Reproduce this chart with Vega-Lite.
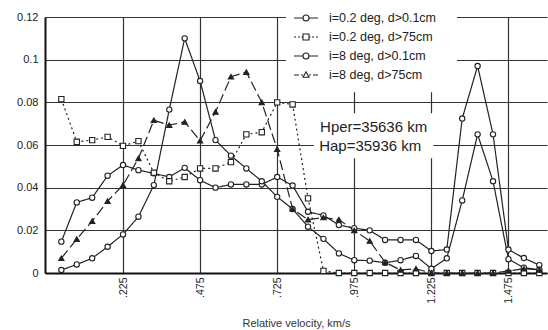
{
  "$schema": "https://vega.github.io/schema/vega-lite/v6.json",
  "width": 502,
  "height": 256,
  "autosize": {"type": "none"},
  "padding": {"left": 45, "top": 17, "right": 1, "bottom": 57},
  "background": "white",
  "config": {
    "view": {"stroke": null},
    "font": "Liberation Sans",
    "axis": {"grid": true, "gridColor": "#333", "gridWidth": 1.2, "gridOpacity": 1, "domainColor": "#111", "domainWidth": 2, "ticks": false, "labelColor": "#222", "labelFont": "Liberation Sans"}
  },
  "datasets": {
    "notes": [{"note": "Hper=35636 km"}, {"note": "Hap=35936 km"}],
    "box": [{"box": "white"}]
  },
  "data": {"values": [
    {"series": "i=0.2 deg, d>0.1cm", "velocity": 0.025, "flux": 0.0147},
    {"series": "i=0.2 deg, d>0.1cm", "velocity": 0.075, "flux": 0.0331},
    {"series": "i=0.2 deg, d>0.1cm", "velocity": 0.125, "flux": 0.0353},
    {"series": "i=0.2 deg, d>0.1cm", "velocity": 0.175, "flux": 0.0456},
    {"series": "i=0.2 deg, d>0.1cm", "velocity": 0.225, "flux": 0.0506},
    {"series": "i=0.2 deg, d>0.1cm", "velocity": 0.275, "flux": 0.0482},
    {"series": "i=0.2 deg, d>0.1cm", "velocity": 0.325, "flux": 0.0467},
    {"series": "i=0.2 deg, d>0.1cm", "velocity": 0.375, "flux": 0.045},
    {"series": "i=0.2 deg, d>0.1cm", "velocity": 0.425, "flux": 0.0493},
    {"series": "i=0.2 deg, d>0.1cm", "velocity": 0.475, "flux": 0.0435},
    {"series": "i=0.2 deg, d>0.1cm", "velocity": 0.525, "flux": 0.040},
    {"series": "i=0.2 deg, d>0.1cm", "velocity": 0.575, "flux": 0.0415},
    {"series": "i=0.2 deg, d>0.1cm", "velocity": 0.625, "flux": 0.0415},
    {"series": "i=0.2 deg, d>0.1cm", "velocity": 0.675, "flux": 0.0415},
    {"series": "i=0.2 deg, d>0.1cm", "velocity": 0.725, "flux": 0.045},
    {"series": "i=0.2 deg, d>0.1cm", "velocity": 0.775, "flux": 0.041},
    {"series": "i=0.2 deg, d>0.1cm", "velocity": 0.825, "flux": 0.0287},
    {"series": "i=0.2 deg, d>0.1cm", "velocity": 0.875, "flux": 0.027},
    {"series": "i=0.2 deg, d>0.1cm", "velocity": 0.925, "flux": 0.0225},
    {"series": "i=0.2 deg, d>0.1cm", "velocity": 0.975, "flux": 0.021},
    {"series": "i=0.2 deg, d>0.1cm", "velocity": 1.025, "flux": 0.020},
    {"series": "i=0.2 deg, d>0.1cm", "velocity": 1.075, "flux": 0.0155},
    {"series": "i=0.2 deg, d>0.1cm", "velocity": 1.125, "flux": 0.0155},
    {"series": "i=0.2 deg, d>0.1cm", "velocity": 1.175, "flux": 0.0155},
    {"series": "i=0.2 deg, d>0.1cm", "velocity": 1.225, "flux": 0.0103},
    {"series": "i=0.2 deg, d>0.1cm", "velocity": 1.275, "flux": 0.011},
    {"series": "i=0.2 deg, d>0.1cm", "velocity": 1.325, "flux": 0.0724},
    {"series": "i=0.2 deg, d>0.1cm", "velocity": 1.375, "flux": 0.097},
    {"series": "i=0.2 deg, d>0.1cm", "velocity": 1.425, "flux": 0.065},
    {"series": "i=0.2 deg, d>0.1cm", "velocity": 1.475, "flux": 0.011},
    {"series": "i=0.2 deg, d>0.1cm", "velocity": 1.525, "flux": 0.007},
    {"series": "i=0.2 deg, d>0.1cm", "velocity": 1.575, "flux": 0.0037},
    {"series": "i=0.2 deg, d>75cm", "velocity": 0.025, "flux": 0.0815},
    {"series": "i=0.2 deg, d>75cm", "velocity": 0.075, "flux": 0.0615},
    {"series": "i=0.2 deg, d>75cm", "velocity": 0.125, "flux": 0.0623},
    {"series": "i=0.2 deg, d>75cm", "velocity": 0.175, "flux": 0.0638},
    {"series": "i=0.2 deg, d>75cm", "velocity": 0.225, "flux": 0.0596},
    {"series": "i=0.2 deg, d>75cm", "velocity": 0.275, "flux": 0.0618},
    {"series": "i=0.2 deg, d>75cm", "velocity": 0.325, "flux": 0.047},
    {"series": "i=0.2 deg, d>75cm", "velocity": 0.375, "flux": 0.043},
    {"series": "i=0.2 deg, d>75cm", "velocity": 0.425, "flux": 0.045},
    {"series": "i=0.2 deg, d>75cm", "velocity": 0.475, "flux": 0.049},
    {"series": "i=0.2 deg, d>75cm", "velocity": 0.525, "flux": 0.049},
    {"series": "i=0.2 deg, d>75cm", "velocity": 0.575, "flux": 0.052},
    {"series": "i=0.2 deg, d>75cm", "velocity": 0.625, "flux": 0.065},
    {"series": "i=0.2 deg, d>75cm", "velocity": 0.675, "flux": 0.066},
    {"series": "i=0.2 deg, d>75cm", "velocity": 0.725, "flux": 0.080},
    {"series": "i=0.2 deg, d>75cm", "velocity": 0.775, "flux": 0.079},
    {"series": "i=0.2 deg, d>75cm", "velocity": 0.825, "flux": 0.035},
    {"series": "i=0.2 deg, d>75cm", "velocity": 0.875, "flux": 0.001},
    {"series": "i=0.2 deg, d>75cm", "velocity": 0.925, "flux": 0},
    {"series": "i=0.2 deg, d>75cm", "velocity": 0.975, "flux": 0},
    {"series": "i=0.2 deg, d>75cm", "velocity": 1.025, "flux": 0},
    {"series": "i=0.2 deg, d>75cm", "velocity": 1.075, "flux": 0},
    {"series": "i=0.2 deg, d>75cm", "velocity": 1.125, "flux": 0},
    {"series": "i=0.2 deg, d>75cm", "velocity": 1.175, "flux": 0},
    {"series": "i=0.2 deg, d>75cm", "velocity": 1.225, "flux": 0},
    {"series": "i=0.2 deg, d>75cm", "velocity": 1.275, "flux": 0},
    {"series": "i=0.2 deg, d>75cm", "velocity": 1.325, "flux": 0},
    {"series": "i=0.2 deg, d>75cm", "velocity": 1.375, "flux": 0},
    {"series": "i=0.2 deg, d>75cm", "velocity": 1.425, "flux": 0},
    {"series": "i=0.2 deg, d>75cm", "velocity": 1.475, "flux": 0},
    {"series": "i=0.2 deg, d>75cm", "velocity": 1.525, "flux": 0},
    {"series": "i=0.2 deg, d>75cm", "velocity": 1.575, "flux": 0},
    {"series": "i=8 deg, d>0.1cm", "velocity": 0.025, "flux": 0.0014},
    {"series": "i=8 deg, d>0.1cm", "velocity": 0.075, "flux": 0.004},
    {"series": "i=8 deg, d>0.1cm", "velocity": 0.125, "flux": 0.0069},
    {"series": "i=8 deg, d>0.1cm", "velocity": 0.175, "flux": 0.0123},
    {"series": "i=8 deg, d>0.1cm", "velocity": 0.225, "flux": 0.0181},
    {"series": "i=8 deg, d>0.1cm", "velocity": 0.275, "flux": 0.0264},
    {"series": "i=8 deg, d>0.1cm", "velocity": 0.325, "flux": 0.0412},
    {"series": "i=8 deg, d>0.1cm", "velocity": 0.375, "flux": 0.0766},
    {"series": "i=8 deg, d>0.1cm", "velocity": 0.425, "flux": 0.110},
    {"series": "i=8 deg, d>0.1cm", "velocity": 0.475, "flux": 0.090},
    {"series": "i=8 deg, d>0.1cm", "velocity": 0.525, "flux": 0.0623},
    {"series": "i=8 deg, d>0.1cm", "velocity": 0.575, "flux": 0.055},
    {"series": "i=8 deg, d>0.1cm", "velocity": 0.625, "flux": 0.049},
    {"series": "i=8 deg, d>0.1cm", "velocity": 0.675, "flux": 0.043},
    {"series": "i=8 deg, d>0.1cm", "velocity": 0.725, "flux": 0.0357},
    {"series": "i=8 deg, d>0.1cm", "velocity": 0.775, "flux": 0.030},
    {"series": "i=8 deg, d>0.1cm", "velocity": 0.825, "flux": 0.0217},
    {"series": "i=8 deg, d>0.1cm", "velocity": 0.875, "flux": 0.016},
    {"series": "i=8 deg, d>0.1cm", "velocity": 0.925, "flux": 0.0092},
    {"series": "i=8 deg, d>0.1cm", "velocity": 0.975, "flux": 0.006},
    {"series": "i=8 deg, d>0.1cm", "velocity": 1.025, "flux": 0.0058},
    {"series": "i=8 deg, d>0.1cm", "velocity": 1.075, "flux": 0.0048},
    {"series": "i=8 deg, d>0.1cm", "velocity": 1.125, "flux": 0.006},
    {"series": "i=8 deg, d>0.1cm", "velocity": 1.175, "flux": 0.008},
    {"series": "i=8 deg, d>0.1cm", "velocity": 1.225, "flux": 0.002},
    {"series": "i=8 deg, d>0.1cm", "velocity": 1.275, "flux": 0.0069},
    {"series": "i=8 deg, d>0.1cm", "velocity": 1.325, "flux": 0.034},
    {"series": "i=8 deg, d>0.1cm", "velocity": 1.375, "flux": 0.065},
    {"series": "i=8 deg, d>0.1cm", "velocity": 1.425, "flux": 0.043},
    {"series": "i=8 deg, d>0.1cm", "velocity": 1.475, "flux": 0.0065},
    {"series": "i=8 deg, d>0.1cm", "velocity": 1.525, "flux": 0.0025},
    {"series": "i=8 deg, d>0.1cm", "velocity": 1.575, "flux": 0.0015},
    {"series": "i=8 deg, d>75cm", "velocity": 0.025, "flux": 0.0069},
    {"series": "i=8 deg, d>75cm", "velocity": 0.075, "flux": 0.0159},
    {"series": "i=8 deg, d>75cm", "velocity": 0.125, "flux": 0.0243},
    {"series": "i=8 deg, d>75cm", "velocity": 0.175, "flux": 0.0337},
    {"series": "i=8 deg, d>75cm", "velocity": 0.225, "flux": 0.0412},
    {"series": "i=8 deg, d>75cm", "velocity": 0.275, "flux": 0.0537},
    {"series": "i=8 deg, d>75cm", "velocity": 0.325, "flux": 0.0716},
    {"series": "i=8 deg, d>75cm", "velocity": 0.375, "flux": 0.0693},
    {"series": "i=8 deg, d>75cm", "velocity": 0.425, "flux": 0.0708},
    {"series": "i=8 deg, d>75cm", "velocity": 0.475, "flux": 0.062},
    {"series": "i=8 deg, d>75cm", "velocity": 0.525, "flux": 0.0755},
    {"series": "i=8 deg, d>75cm", "velocity": 0.575, "flux": 0.092},
    {"series": "i=8 deg, d>75cm", "velocity": 0.625, "flux": 0.0942},
    {"series": "i=8 deg, d>75cm", "velocity": 0.675, "flux": 0.080},
    {"series": "i=8 deg, d>75cm", "velocity": 0.725, "flux": 0.058},
    {"series": "i=8 deg, d>75cm", "velocity": 0.775, "flux": 0.030},
    {"series": "i=8 deg, d>75cm", "velocity": 0.825, "flux": 0.025},
    {"series": "i=8 deg, d>75cm", "velocity": 0.875, "flux": 0.026},
    {"series": "i=8 deg, d>75cm", "velocity": 0.925, "flux": 0.025},
    {"series": "i=8 deg, d>75cm", "velocity": 0.975, "flux": 0.020},
    {"series": "i=8 deg, d>75cm", "velocity": 1.025, "flux": 0.015},
    {"series": "i=8 deg, d>75cm", "velocity": 1.075, "flux": 0.005},
    {"series": "i=8 deg, d>75cm", "velocity": 1.125, "flux": 0.0014},
    {"series": "i=8 deg, d>75cm", "velocity": 1.175, "flux": 0.002},
    {"series": "i=8 deg, d>75cm", "velocity": 1.225, "flux": 0},
    {"series": "i=8 deg, d>75cm", "velocity": 1.275, "flux": 0},
    {"series": "i=8 deg, d>75cm", "velocity": 1.325, "flux": 0},
    {"series": "i=8 deg, d>75cm", "velocity": 1.375, "flux": 0},
    {"series": "i=8 deg, d>75cm", "velocity": 1.425, "flux": 0},
    {"series": "i=8 deg, d>75cm", "velocity": 1.475, "flux": 0.001},
    {"series": "i=8 deg, d>75cm", "velocity": 1.525, "flux": 0.002},
    {"series": "i=8 deg, d>75cm", "velocity": 1.575, "flux": 0.0015}
  ]},
  "layer": [
    {
      "mark": {"type": "line", "strokeWidth": 1.2, "color": "#222"},
      "encoding": {
        "x": {"field": "velocity", "type": "quantitative",
          "scale": {"domain": [-0.028, 1.6], "nice": false, "zero": false},
          "axis": {"grid": true, "values": [0.225, 0.475, 0.725, 0.975, 1.225, 1.475], "labelAngle": -90, "labelPadding": 4, "labelFontSize": 10.5,
            "labelExpr": "datum.value < 1 ? substring(format(datum.value, '.3f'), 1) : format(datum.value, '.3f')",
            "title": "Relative velocity, km/s", "titleFontSize": 11, "titleFontWeight": "normal", "titleColor": "#333", "titleBaseline": "top", "titleY": 44}},
        "y": {"field": "flux", "type": "quantitative",
          "scale": {"domain": [0, 0.12], "nice": false},
          "axis": {"grid": true, "values": [0, 0.02, 0.04, 0.06, 0.08, 0.1, 0.12], "labelExpr": "datum.value == 0 ? '0' : format(datum.value, '.2~f')", "labelPadding": 7, "labelFontSize": 11, "labelFlush": false, "title": null}},
        "detail": {"field": "series"},
        "strokeDash": {"field": "series", "type": "nominal",
          "scale": {"domain": ["i=0.2 deg, d>0.1cm", "i=0.2 deg, d>75cm", "i=8 deg, d>0.1cm", "i=8 deg, d>75cm"], "range": [[1, 0], [2, 3], [1, 0], [10, 4]]},
          "legend": null}
      }
    },
    {
      "mark": {"type": "point", "filled": false, "strokeWidth": 1.1, "stroke": "#222", "opacity": 1},
      "encoding": {
        "x": {"field": "velocity", "type": "quantitative"},
        "y": {"field": "flux", "type": "quantitative"},
        "shape": {"field": "series", "type": "nominal",
          "scale": {"domain": ["i=0.2 deg, d>0.1cm", "i=0.2 deg, d>75cm", "i=8 deg, d>0.1cm", "i=8 deg, d>75cm"], "range": ["circle", "square", "circle", "triangle-up"]},
          "legend": null},
        "fill": {"field": "series", "type": "nominal",
          "scale": {"domain": ["i=0.2 deg, d>0.1cm", "i=0.2 deg, d>75cm", "i=8 deg, d>0.1cm", "i=8 deg, d>75cm"], "range": ["white", "white", "white", "#222"]},
          "legend": null},
        "size": {"value": 28}
      }
    },
    {
      "data": {"name": "box"},
      "mark": {"type": "rect", "fill": "white", "strokeWidth": 0},
      "encoding": {"x": {"datum": 0.7536, "type": "quantitative"}, "x2": {"datum": 1.308}, "y": {"datum": 0.0847, "type": "quantitative"}, "y2": {"datum": 0.127}}
    },
    {
      "data": {"name": "box"},
      "mark": {"type": "rect", "fill": "white", "strokeWidth": 0},
      "encoding": {"x": {"datum": 0.844, "type": "quantitative"}, "x2": {"datum": 1.232}, "y": {"datum": 0.0538, "type": "quantitative"}, "y2": {"datum": 0.0749}}
    },
    {
      "mark": {"type": "point", "opacity": 0},
      "encoding": {
        "x": {"field": "velocity", "type": "quantitative"},
        "y": {"field": "flux", "type": "quantitative"},
        "shape": {"field": "series", "type": "nominal",
          "scale": {"domain": ["i=0.2 deg, d>0.1cm", "i=0.2 deg, d>75cm", "i=8 deg, d>0.1cm", "i=8 deg, d>75cm"],
            "range": [
              "M-1.2,0H-0.3M0.3,0H1.2M-0.3,0A0.3,0.3,0,1,0,0.3,0A0.3,0.3,0,1,0,-0.3,0Z",
              "M-1.2,0H-1M-0.8,0H-0.6M-0.45,0H-0.3M0.3,0H0.45M0.6,0H0.8M1,0H1.2M-0.3,-0.3H0.3V0.3H-0.3Z",
              "M-1.2,0H-0.3M0.3,0H1.2M-0.3,0A0.3,0.3,0,1,0,0.3,0A0.3,0.3,0,1,0,-0.3,0Z",
              "M-1.2,0H-0.7M-0.5,0H-0.3M0.3,0H0.5M0.7,0H1.2M0,-0.32L0.3,0.22H-0.3Z"
            ]},
          "legend": {"orient": "none", "legendX": 250, "legendY": -10, "title": null, "padding": 0,
            "symbolSize": 400, "symbolStrokeColor": "#222", "symbolStrokeWidth": 1.1, "symbolFillColor": "white", "symbolOpacity": 1,
            "labelOffset": 12, "labelFontSize": 12.5, "labelFont": "Liberation Sans", "labelColor": "#222", "rowPadding": 1,
            "encode": {"symbols": {"update": {"fill": {"signal": "datum.value === 'i=8 deg, d>75cm' ? '#222' : 'white'"}}}}}
        }
      }
    },
    {
      "data": {"name": "notes"},
      "transform": [{"filter": "datum.note == 'Hper=35636 km'"}],
      "mark": {"type": "text", "align": "left", "baseline": "middle", "fontSize": 15, "font": "Liberation Sans", "color": "#222"},
      "encoding": {"text": {"field": "note"}, "x": {"datum": 0.864, "type": "quantitative"}, "y": {"datum": 0.0685, "type": "quantitative"}}
    },
    {
      "data": {"name": "notes"},
      "transform": [{"filter": "datum.note == 'Hap=35936 km'"}],
      "mark": {"type": "text", "align": "left", "baseline": "middle", "fontSize": 15, "font": "Liberation Sans", "color": "#222"},
      "encoding": {"text": {"field": "note"}, "x": {"datum": 0.861, "type": "quantitative"}, "y": {"datum": 0.0596, "type": "quantitative"}}
    }
  ],
  "resolve": {"scale": {"shape": "independent"}}
}
